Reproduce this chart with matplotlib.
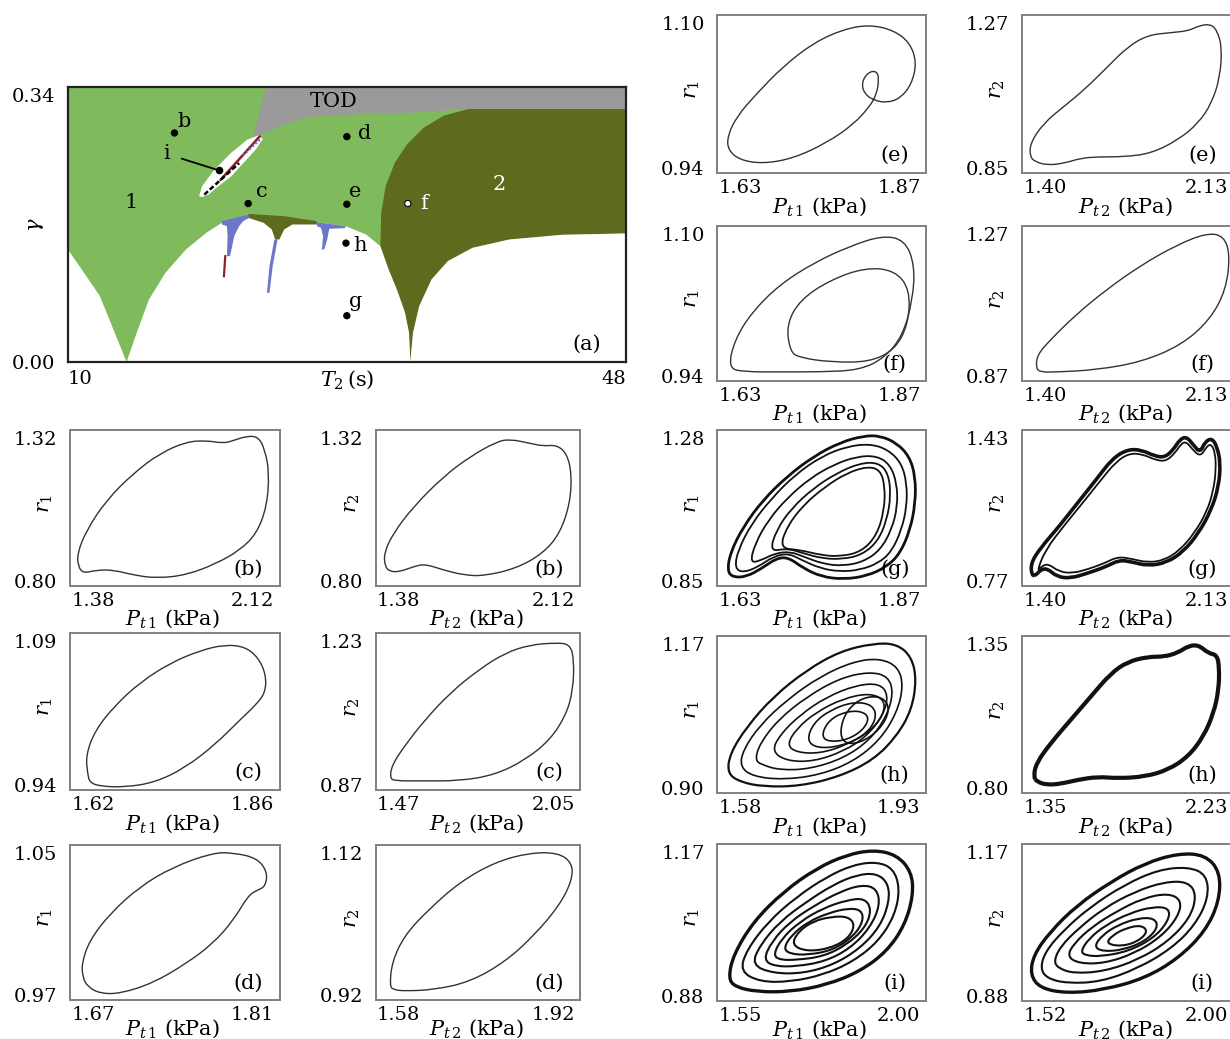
import numpy as np
import matplotlib.pyplot as plt
from matplotlib.path import Path
from matplotlib.patches import PathPatch

plt.rcParams['font.family'] = 'DejaVu Serif'
plt.rcParams['mathtext.fontset'] = 'dejavuserif'

W, H = 1230, 1039
GREEN = '#7fba5c'
OLIVE = '#5e6b1f'
GREY = '#9a9a9a'
BLUE = '#6d77c9'
RED = '#8a2222'

# ---------------- bifurcation map (T2, gamma) ----------------
arch_T2 = [10.0, 10.78, 12.17, 13.99, 14.68, 15.52, 16.64, 18.03, 19.42, 20.54,
           22.27, 24.72, 26.95, 28.90, 30.30, 31.27]
arch_gamma = [0.143, 0.122, 0.0839, 0.0, 0.0373, 0.0797, 0.1136, 0.1432, 0.1644, 0.178,
              0.1877, 0.1822, 0.178, 0.1729, 0.1623, 0.1474]
dark_left_T2 = [37.27, 35.59, 34.20, 33.08, 32.25, 31.63, 31.33, 31.27]
dark_left_gamma = [0.322, 0.3135, 0.2979, 0.2767, 0.2534, 0.2237, 0.1898, 0.1474]
dark_low_T2 = [31.83, 32.39, 32.95, 33.22, 33.31, 33.50, 33.92, 34.76, 35.87, 37.55, 40.06, 43.68, 48.0]
dark_low_gamma = [0.1178, 0.0924, 0.0627, 0.0373, 0.0, 0.0373, 0.0712, 0.1051, 0.1284, 0.1453,
                  0.1559, 0.1619, 0.1636]
tod_T2 = [23.47, 48.0, 48.0, 37.27, 35.87, 33.08, 28.90, 26.39, 24.72, 23.05, 22.63]
tod_gamma = [0.35, 0.35, 0.322, 0.322, 0.3203, 0.3169, 0.3148, 0.3118, 0.3021, 0.2881, 0.2864]
streak_T2 = [18.92, 19.14, 19.98, 21.10, 22.21, 23.05, 23.27, 22.77, 21.93, 21.10, 20.26, 19.56, 19.14]
streak_gamma = [0.211, 0.224, 0.245, 0.266, 0.283, 0.289, 0.284, 0.270, 0.253, 0.236, 0.224, 0.213, 0.210]
drip_olive_T2 = [22.27, 24.72, 26.95, 26.95, 25.28, 24.72, 24.39, 24.11, 23.88, 23.33, 22.27]
drip_olive_gamma = [0.1885, 0.1856, 0.1792, 0.1750, 0.1750, 0.1686, 0.1559, 0.1559, 0.1686, 0.1771, 0.1835]
drip_blue1_T2 = [20.48, 22.27, 22.35, 21.93, 21.65, 21.32, 21.04, 20.82, 20.87, 20.82, 20.48]
drip_blue1_gamma = [0.1792, 0.1877, 0.1835, 0.1792, 0.1729, 0.1602, 0.1347, 0.1347, 0.1602, 0.1729, 0.1750]
drip_blue2_T2 = [24.05, 24.27, 23.94, 23.72, 23.55, 23.72]
drip_blue2_gamma = [0.1559, 0.1559, 0.1220, 0.0881, 0.0881, 0.1220]
drip_blue3_T2 = [26.95, 28.90, 28.85, 27.79, 27.65, 27.45, 27.29, 27.37, 27.23, 26.95]
drip_blue3_gamma = [0.178, 0.1729, 0.1703, 0.1695, 0.1559, 0.1432, 0.1432, 0.1602, 0.1708, 0.1729]
red_trace_T2 = [20.71, 20.62]
red_trace_gamma = [0.1347, 0.1093]
streak_red_T2 = [20.40, 23.05]
streak_red_gamma = [0.232, 0.287]
streak_black_T2 = [19.28, 21.65]
streak_black_gamma = [0.213, 0.253]
streak_blue_T2 = [21.93, 23.19]
streak_blue_gamma = [0.263, 0.285]

point_names = ['b', 'c', 'd', 'e', 'f', 'g', 'h']
point_T2 = [17.25, 22.27, 28.99, 28.99, 33.14, 28.99, 28.93]
point_gamma = [0.2915, 0.2017, 0.2868, 0.2008, 0.2017, 0.0589, 0.1513]
point_offsets = [(7, 8), (10, 9), (13, 2), (6, 9), (12, 0), (6, 10), (10, -2)]
point_i = (20.26, 0.244)

# ---------------- phase portraits: (xs, ys) loops ----------------
b1_x = [1.311, 1.307, 1.350, 1.443, 1.566, 1.690, 1.814, 1.907, 1.984, 2.030, 2.092, 2.146,
        2.177, 2.197, 2.185, 2.139, 2.061, 1.953, 1.814, 1.675, 1.566, 1.474, 1.397, 1.335]
b1_y = [0.853, 0.902, 0.986, 1.095, 1.191, 1.264, 1.306, 1.310, 1.300, 1.310, 1.326, 1.324,
        1.276, 1.191, 1.070, 0.974, 0.913, 0.865, 0.823, 0.811, 0.823, 0.841, 0.841, 0.829]
b2_x = [1.316, 1.311, 1.355, 1.451, 1.594, 1.722, 1.849, 1.912, 2.008, 2.071, 2.135, 2.183,
        2.207, 2.199, 2.151, 2.071, 1.944, 1.785, 1.690, 1.594, 1.507, 1.451, 1.387, 1.340]
b2_y = [0.853, 0.902, 0.974, 1.070, 1.179, 1.252, 1.306, 1.315, 1.300, 1.290, 1.294, 1.264,
        1.191, 1.083, 0.974, 0.902, 0.847, 0.819, 0.823, 0.841, 0.863, 0.853, 0.835, 0.835]
c1_x = [1.612, 1.609, 1.623, 1.653, 1.691, 1.736, 1.781, 1.818, 1.848, 1.868, 1.880, 1.879,
        1.864, 1.841, 1.803, 1.758, 1.713, 1.668, 1.630, 1.615]
c1_y = [0.951, 0.971, 0.997, 1.023, 1.047, 1.067, 1.080, 1.086, 1.084, 1.073, 1.055, 1.036,
        1.023, 1.008, 0.982, 0.958, 0.943, 0.938, 0.939, 0.943]
c2_x = [1.438, 1.446, 1.495, 1.569, 1.663, 1.768, 1.869, 1.962, 2.056, 2.112, 2.127, 2.123,
        2.097, 2.037, 1.944, 1.831, 1.700, 1.551, 1.457]
c2_y = [0.888, 0.921, 0.970, 1.033, 1.100, 1.157, 1.200, 1.220, 1.225, 1.222, 1.182, 1.107,
        1.045, 0.983, 0.933, 0.896, 0.881, 0.881, 0.881]
d1_x = [1.661, 1.660, 1.667, 1.685, 1.711, 1.740, 1.775, 1.793, 1.814, 1.823, 1.821, 1.814,
        1.806, 1.793, 1.775, 1.752, 1.723, 1.694, 1.676, 1.665]
d1_y = [0.980, 0.988, 1.001, 1.016, 1.031, 1.042, 1.050, 1.050, 1.047, 1.039, 1.031, 1.029,
        1.026, 1.012, 0.999, 0.988, 0.977, 0.971, 0.971, 0.975]
d2_x = [1.561, 1.566, 1.594, 1.649, 1.715, 1.792, 1.868, 1.930, 1.961, 1.961, 1.934, 1.879,
        1.814, 1.737, 1.660, 1.594, 1.568]
d2_y = [0.934, 0.967, 1.005, 1.042, 1.079, 1.107, 1.120, 1.120, 1.106, 1.082, 1.047, 1.005,
        0.967, 0.939, 0.928, 0.926, 0.928]
e1_x = [1.611, 1.625, 1.655, 1.695, 1.741, 1.786, 1.826, 1.862, 1.887, 1.897, 1.889, 1.872,
        1.852, 1.831, 1.817, 1.814, 1.824, 1.837, 1.840, 1.836, 1.826, 1.801, 1.761, 1.711,
        1.665, 1.630, 1.612]
e1_y = [0.975, 0.997, 1.022, 1.052, 1.078, 1.093, 1.098, 1.092, 1.078, 1.056, 1.032, 1.017,
        1.012, 1.015, 1.023, 1.035, 1.046, 1.047, 1.037, 1.021, 1.008, 0.988, 0.968, 0.951,
        0.945, 0.949, 0.960]
e2_x = [1.331, 1.331, 1.392, 1.483, 1.575, 1.682, 1.773, 1.865, 1.971, 2.048, 2.093, 2.146,
        2.177, 2.200, 2.192, 2.154, 2.093, 2.002, 1.880, 1.758, 1.636, 1.560, 1.483, 1.407, 1.354]
e2_y = [0.883, 0.922, 0.980, 1.028, 1.076, 1.143, 1.201, 1.235, 1.242, 1.247, 1.261, 1.267,
        1.250, 1.201, 1.115, 1.038, 0.980, 0.932, 0.893, 0.883, 0.883, 0.879, 0.864, 0.859, 0.869]
f1_outer_x = [1.612, 1.622, 1.648, 1.690, 1.743, 1.796, 1.845, 1.879, 1.894, 1.891, 1.876,
              1.849, 1.811, 1.751, 1.690, 1.638]
f1_outer_y = [0.949, 0.981, 1.012, 1.043, 1.068, 1.086, 1.098, 1.093, 1.065, 1.026, 0.986,
              0.961, 0.947, 0.945, 0.945, 0.945]
f1_inner_x = [1.706, 1.700, 1.721, 1.766, 1.819, 1.864, 1.887, 1.884, 1.864, 1.826, 1.766, 1.721]
f1_inner_y = [0.967, 0.998, 1.026, 1.048, 1.062, 1.059, 1.037, 0.998, 0.970, 0.956, 0.956, 0.961]
f2_x = [1.358, 1.363, 1.422, 1.537, 1.674, 1.834, 1.994, 2.131, 2.209, 2.237, 2.218, 2.145,
        2.017, 1.834, 1.628, 1.445, 1.377]
f2_y = [0.893, 0.930, 0.972, 1.042, 1.112, 1.182, 1.238, 1.272, 1.264, 1.210, 1.112, 1.028,
        0.958, 0.910, 0.888, 0.882, 0.882]

g1_loops = [
    ([1.611, 1.615, 1.635, 1.665, 1.701, 1.741, 1.781, 1.817, 1.842, 1.867, 1.886, 1.895, 1.895,
      1.887, 1.872, 1.852, 1.822, 1.786, 1.753, 1.726, 1.703, 1.685, 1.663, 1.640, 1.620],
     [0.879, 0.934, 1.014, 1.094, 1.164, 1.224, 1.266, 1.286, 1.286, 1.264, 1.224, 1.164, 1.084,
      1.004, 0.934, 0.894, 0.866, 0.856, 0.864, 0.889, 0.922, 0.919, 0.889, 0.864, 0.862]),
    ([1.622, 1.627, 1.648, 1.678, 1.713, 1.753, 1.791, 1.827, 1.854, 1.874, 1.882, 1.882, 1.874,
      1.859, 1.839, 1.811, 1.781, 1.751, 1.723, 1.703, 1.680, 1.658, 1.635],
     [0.889, 0.944, 1.024, 1.099, 1.169, 1.224, 1.254, 1.262, 1.244, 1.204, 1.144, 1.074, 1.004,
      0.939, 0.904, 0.884, 0.879, 0.889, 0.914, 0.934, 0.924, 0.894, 0.876]),
    ([1.645, 1.653, 1.673, 1.701, 1.736, 1.771, 1.806, 1.837, 1.857, 1.867, 1.868, 1.859, 1.842,
      1.817, 1.786, 1.756, 1.726, 1.706, 1.683, 1.663],
     [0.904, 0.964, 1.034, 1.099, 1.159, 1.199, 1.224, 1.226, 1.199, 1.144, 1.074, 1.004, 0.944,
      0.909, 0.896, 0.902, 0.924, 0.939, 0.934, 0.914]),
    ([1.675, 1.685, 1.708, 1.741, 1.776, 1.811, 1.839, 1.854, 1.858, 1.852, 1.838, 1.814, 1.784,
      1.753, 1.726, 1.701],
     [0.939, 1.004, 1.069, 1.129, 1.174, 1.204, 1.206, 1.174, 1.109, 1.034, 0.969, 0.929, 0.916,
      0.919, 0.934, 0.949]),
    ([1.690, 1.701, 1.726, 1.759, 1.791, 1.822, 1.842, 1.849, 1.848, 1.837, 1.814, 1.781, 1.751, 1.721],
     [0.949, 1.014, 1.079, 1.134, 1.174, 1.194, 1.184, 1.134, 1.064, 0.989, 0.939, 0.924, 0.929, 0.944]),
]
g2_loops = [
    ([1.339, 1.334, 1.377, 1.461, 1.545, 1.629, 1.705, 1.774, 1.835, 1.896, 1.941, 1.979, 2.010,
      2.040, 2.071, 2.101, 2.124, 2.155, 2.178, 2.194, 2.185, 2.152, 2.094, 2.025, 1.949, 1.865,
      1.789, 1.735, 1.674, 1.591, 1.514, 1.453, 1.408, 1.377, 1.359],
     [0.795, 0.853, 0.922, 1.021, 1.129, 1.236, 1.336, 1.377, 1.374, 1.346, 1.340, 1.374, 1.423,
      1.435, 1.397, 1.362, 1.412, 1.428, 1.389, 1.313, 1.205, 1.098, 0.991, 0.906, 0.856, 0.841,
      0.860, 0.868, 0.837, 0.807, 0.784, 0.791, 0.830, 0.822, 0.799]),
    ([1.362, 1.400, 1.484, 1.568, 1.652, 1.720, 1.781, 1.842, 1.899, 1.946, 1.987, 2.017, 2.040,
      2.066, 2.103, 2.130, 2.152, 2.170, 2.173, 2.162, 2.132, 2.075, 2.010, 1.941, 1.865, 1.789,
      1.728, 1.667, 1.591, 1.522, 1.461, 1.415, 1.385],
     [0.815, 0.914, 1.025, 1.129, 1.236, 1.320, 1.359, 1.354, 1.328, 1.322, 1.359, 1.405, 1.411,
      1.377, 1.343, 1.389, 1.402, 1.359, 1.282, 1.190, 1.090, 0.991, 0.914, 0.868, 0.856, 0.874,
      0.883, 0.853, 0.825, 0.807, 0.815, 0.850, 0.841]),
]
h1_loops = [
    ([1.552, 1.558, 1.595, 1.653, 1.727, 1.800, 1.874, 1.925, 1.958, 1.969, 1.958, 1.925, 1.874,
      1.800, 1.712, 1.631, 1.580],
     [0.928, 0.965, 1.015, 1.071, 1.121, 1.156, 1.171, 1.170, 1.146, 1.103, 1.046, 0.997, 0.953,
      0.922, 0.904, 0.903, 0.912]),
    ([1.580, 1.587, 1.624, 1.683, 1.756, 1.830, 1.888, 1.929, 1.940, 1.925, 1.888, 1.830, 1.756, 1.675, 1.609],
     [0.940, 0.972, 1.018, 1.065, 1.109, 1.137, 1.143, 1.127, 1.090, 1.040, 0.990, 0.950, 0.925, 0.916, 0.922]),
    ([1.613, 1.624, 1.664, 1.727, 1.800, 1.866, 1.907, 1.918, 1.903, 1.866, 1.808, 1.734, 1.668, 1.628],
     [0.953, 0.984, 1.028, 1.071, 1.106, 1.118, 1.109, 1.078, 1.034, 0.990, 0.956, 0.936, 0.934, 0.944]),
    ([1.650, 1.668, 1.712, 1.771, 1.837, 1.888, 1.907, 1.896, 1.859, 1.808, 1.742, 1.683],
     [0.969, 1.000, 1.037, 1.071, 1.093, 1.096, 1.074, 1.037, 0.997, 0.969, 0.950, 0.951]),
    ([1.683, 1.705, 1.749, 1.808, 1.866, 1.899, 1.896, 1.866, 1.815, 1.756, 1.705],
     [0.981, 1.012, 1.043, 1.068, 1.078, 1.065, 1.037, 1.006, 0.981, 0.965, 0.967]),
    ([1.727, 1.742, 1.778, 1.830, 1.874, 1.881, 1.852, 1.800, 1.749],
     [0.990, 1.022, 1.046, 1.062, 1.056, 1.028, 0.997, 0.978, 0.975]),
    ([1.760, 1.771, 1.800, 1.841, 1.866, 1.852, 1.815, 1.775],
     [0.997, 1.022, 1.040, 1.046, 1.034, 1.009, 0.990, 0.987]),
    ([1.800, 1.815, 1.852, 1.896, 1.911, 1.888, 1.844, 1.808],
     [1.009, 1.046, 1.071, 1.071, 1.046, 1.009, 0.984, 0.984]),
]
h2_x = [1.286, 1.300, 1.378, 1.488, 1.598, 1.708, 1.800, 1.911, 2.002, 2.076, 2.131, 2.186,
        2.241, 2.287, 2.300, 2.297, 2.269, 2.214, 2.131, 2.021, 1.892, 1.745, 1.635, 1.525,
        1.433, 1.359, 1.304]
h2_y = [0.844, 0.895, 0.971, 1.060, 1.149, 1.238, 1.282, 1.301, 1.301, 1.317, 1.342, 1.346,
        1.314, 1.308, 1.263, 1.174, 1.086, 0.997, 0.921, 0.870, 0.844, 0.838, 0.844, 0.832,
        0.817, 0.813, 0.825]
i1_loops = [
    ([1.517, 1.531, 1.588, 1.673, 1.767, 1.852, 1.928, 1.994, 2.036, 2.041, 2.017, 1.966, 1.890,
      1.796, 1.692, 1.597, 1.536],
     [0.916, 0.963, 1.030, 1.090, 1.137, 1.164, 1.174, 1.164, 1.130, 1.083, 1.023, 0.970, 0.930,
      0.903, 0.889, 0.889, 0.899]),
    ([1.550, 1.569, 1.630, 1.711, 1.796, 1.871, 1.937, 1.984, 2.003, 1.989, 1.942, 1.871, 1.786, 1.692, 1.607],
     [0.930, 0.973, 1.030, 1.080, 1.120, 1.144, 1.150, 1.137, 1.097, 1.043, 0.990, 0.950, 0.923, 0.909, 0.909]),
    ([1.583, 1.607, 1.663, 1.739, 1.814, 1.881, 1.937, 1.970, 1.973, 1.947, 1.890, 1.814, 1.729, 1.644],
     [0.943, 0.983, 1.030, 1.070, 1.104, 1.124, 1.127, 1.107, 1.070, 1.020, 0.976, 0.943, 0.926, 0.926]),
    ([1.616, 1.640, 1.692, 1.763, 1.833, 1.895, 1.937, 1.947, 1.918, 1.862, 1.791, 1.711, 1.649],
     [0.953, 0.990, 1.030, 1.063, 1.090, 1.104, 1.097, 1.063, 1.017, 0.976, 0.950, 0.940, 0.940]),
    ([1.644, 1.668, 1.720, 1.786, 1.852, 1.904, 1.923, 1.904, 1.852, 1.786, 1.711, 1.663],
     [0.963, 0.996, 1.030, 1.057, 1.073, 1.077, 1.053, 1.017, 0.983, 0.960, 0.953, 0.953]),
    ([1.673, 1.696, 1.744, 1.800, 1.857, 1.895, 1.899, 1.871, 1.814, 1.744, 1.692],
     [0.976, 1.003, 1.030, 1.047, 1.057, 1.053, 1.030, 1.000, 0.973, 0.963, 0.965]),
    ([1.696, 1.715, 1.758, 1.810, 1.857, 1.876, 1.857, 1.805, 1.739],
     [0.983, 1.010, 1.031, 1.040, 1.040, 1.023, 0.996, 0.976, 0.970]),
]
i2_loops = [
    ([1.475, 1.485, 1.535, 1.615, 1.716, 1.816, 1.916, 1.996, 2.041, 2.038, 1.996, 1.916, 1.816,
      1.695, 1.585, 1.505],
     [0.923, 0.963, 1.010, 1.063, 1.110, 1.147, 1.167, 1.164, 1.130, 1.070, 1.010, 0.956, 0.916,
      0.893, 0.886, 0.896]),
    ([1.505, 1.520, 1.575, 1.655, 1.756, 1.856, 1.946, 2.001, 2.006, 1.966, 1.896, 1.796, 1.685, 1.585, 1.525],
     [0.936, 0.970, 1.013, 1.060, 1.104, 1.134, 1.140, 1.124, 1.077, 1.023, 0.976, 0.936, 0.909, 0.906, 0.916]),
    ([1.545, 1.565, 1.620, 1.695, 1.786, 1.876, 1.946, 1.971, 1.951, 1.886, 1.796, 1.695, 1.605, 1.560],
     [0.950, 0.980, 1.017, 1.057, 1.090, 1.110, 1.110, 1.083, 1.037, 0.990, 0.953, 0.930, 0.926, 0.936]),
    ([1.585, 1.605, 1.660, 1.731, 1.811, 1.886, 1.926, 1.916, 1.866, 1.786, 1.695, 1.620],
     [0.960, 0.986, 1.020, 1.050, 1.077, 1.087, 1.073, 1.040, 1.000, 0.966, 0.946, 0.946]),
    ([1.625, 1.650, 1.700, 1.771, 1.841, 1.891, 1.886, 1.841, 1.766, 1.685, 1.640],
     [0.970, 0.996, 1.023, 1.047, 1.060, 1.057, 1.030, 0.996, 0.970, 0.960, 0.962]),
    ([1.665, 1.690, 1.736, 1.796, 1.846, 1.856, 1.816, 1.751, 1.690],
     [0.980, 1.003, 1.023, 1.037, 1.037, 1.017, 0.990, 0.973, 0.970]),
    ([1.700, 1.721, 1.761, 1.806, 1.826, 1.796, 1.746],
     [0.986, 1.003, 1.017, 1.023, 1.010, 0.990, 0.980]),
]

fig = plt.figure(figsize=(W / 100, H / 100), dpi=100)


def add_axes_px(left, top, right, bottom):
    return fig.add_axes([left / W, 1 - bottom / H, (right - left) / W, (bottom - top) / H])


def loop_path(xs, ys):
    """Closed quadratic spline whose control polygon is the given loop."""
    pts = np.column_stack([xs, ys])
    mids = (pts + np.roll(pts, -1, axis=0)) / 2
    verts = [mids[-1]]
    codes = [Path.MOVETO]
    for p, m in zip(pts, mids):
        verts += [p, m]
        codes += [Path.CURVE3, Path.CURVE3]
    return Path(verts, codes)


def portrait(box, xticks, yticks, loops, idx, tag, color='#333333', xlab_y=-0.14):
    ax = add_axes_px(*box)
    sx = (xticks[1] - xticks[0]) / 0.76
    sy = (yticks[1] - yticks[0]) / 0.92
    ax.set_xlim(xticks[0] - 0.11 * sx, xticks[0] + 0.89 * sx)
    ax.set_ylim(yticks[0] - 0.03 * sy, yticks[0] + 0.97 * sy)
    ax.set_xticks(xticks, labels=[f'{v:.2f}' for v in xticks])
    ax.set_yticks(yticks, labels=[f'{v:.2f}' for v in yticks])
    ax.tick_params(axis='x', length=0, labelsize=14, pad=4)
    ax.tick_params(axis='y', length=0, labelsize=14, pad=9)
    for sp in ax.spines.values():
        sp.set_color('#808080')
        sp.set_linewidth(1.4)
    for xs, ys, lw in loops:
        ax.add_patch(PathPatch(loop_path(xs, ys), fill=False, ec=color, lw=lw))
    ax.set_xlabel(rf'$P_{{t\,{idx}}}$ (kPa)', fontsize=15)
    ax.xaxis.set_label_coords(0.49, xlab_y)
    ax.set_ylabel(rf'$r_{idx}$', fontsize=15)
    ax.yaxis.set_label_coords(-0.07, 0.53)
    ax.text(0.85, 0.11, tag, transform=ax.transAxes, ha='center', va='center', fontsize=15)
    return ax


# ---------------- panel (a) ----------------
ax = add_axes_px(68, 87, 626, 362)
ax.set_xlim(10, 48)
ax.set_ylim(0, 0.35)
ax.set_facecolor(GREEN)
ax.fill(dark_left_T2 + dark_low_T2 + [48.0], dark_left_gamma + dark_low_gamma + [0.322],
        color=OLIVE, lw=0)
ax.fill(tod_T2, tod_gamma, color=GREY, lw=0)
ax.fill([10.0] + arch_T2 + dark_low_T2 + [48.0], [0.0] + arch_gamma + dark_low_gamma + [0.0],
        color='white', lw=0)
ax.fill(drip_olive_T2, drip_olive_gamma, color=OLIVE, lw=0)
for dx, dy in [(drip_blue1_T2, drip_blue1_gamma), (drip_blue2_T2, drip_blue2_gamma),
               (drip_blue3_T2, drip_blue3_gamma)]:
    ax.fill(dx, dy, color=BLUE, lw=0)
ax.plot(red_trace_T2, red_trace_gamma, color=RED, lw=1.6)
ax.fill(streak_T2, streak_gamma, color='white', lw=0)
ax.plot(streak_red_T2, streak_red_gamma, color=RED, lw=1.8)
ax.plot(streak_black_T2, streak_black_gamma, color='black', lw=1.8, ls=(0, (2, 1)))
ax.plot(streak_blue_T2, streak_blue_gamma, color=BLUE, lw=1.5, ls=(0, (1, 1)))

face = ['white' if n == 'f' else 'black' for n in point_names]
ax.scatter(point_T2, point_gamma, s=20, c=face, edgecolors='black', linewidths=0.8, zorder=5)
ax.scatter([point_i[0]], [point_i[1]], s=20, c='black', zorder=5)
for n, x, y, off in zip(point_names, point_T2, point_gamma, point_offsets):
    ax.annotate(n, (x, y), xytext=off, textcoords='offset points', fontsize=15,
                ha='center', va='center', color='white' if n == 'f' else 'black')
ax.annotate('i', xy=point_i, xytext=(16.69, 0.265), fontsize=15, ha='center', va='center',
            arrowprops=dict(arrowstyle='-', color='black', lw=1.3, shrinkA=7, shrinkB=0))
ax.text(14.27, 0.2025, '1', fontsize=15, ha='center', va='center')
ax.text(39.36, 0.226, '2', fontsize=15, ha='center', va='center', color='white')
ax.text(28.12, 0.331, 'TOD', fontsize=15, ha='center', va='center')
ax.text(45.35, 0.0225, '(a)', fontsize=15, ha='center', va='center')

ax.set_xticks([10, 48], labels=['10', '48'])
ax.set_yticks([0.0, 0.34], labels=['0.00', '0.34'])
ax.tick_params(axis='x', length=0, labelsize=14, pad=6)
ax.tick_params(axis='y', length=0, labelsize=14, pad=9)
xl = ax.get_xticklabels()
xl[0].set_ha('left')
xl[1].set_ha('right')
for sp in ax.spines.values():
    sp.set_color('#222222')
    sp.set_linewidth(1.6)
ax.set_xlabel(r'$T_2\,$(s)', fontsize=15)
ax.xaxis.set_label_coords(0.5, -0.025)
ax.set_ylabel(r'$\gamma$', fontsize=15)
ax.yaxis.set_label_coords(-0.04, 0.5)

# ---------------- portraits ----------------
L1, L2 = (70, 280), (376, 580)
R1, R2 = (717, 926), (1022, 1234)
rows_left = {'b': (430, 586), 'c': (633, 790), 'd': (845, 1000)}
rows_right = {'e': (15, 173), 'f': (226, 381), 'g': (430, 586), 'h': (636, 793), 'i': (844, 1001)}
low = -0.112

thin = 1.0
t, b = rows_left['b']
portrait((L1[0], t, L1[1], b), [1.38, 2.12], [0.80, 1.32], [(b1_x, b1_y, thin)], 1, '(b)')
portrait((L2[0], t, L2[1], b), [1.38, 2.12], [0.80, 1.32], [(b2_x, b2_y, thin)], 2, '(b)')
t, b = rows_left['c']
portrait((L1[0], t, L1[1], b), [1.62, 1.86], [0.94, 1.09], [(c1_x, c1_y, thin)], 1, '(c)')
portrait((L2[0], t, L2[1], b), [1.47, 2.05], [0.87, 1.23], [(c2_x, c2_y, thin)], 2, '(c)')
t, b = rows_left['d']
portrait((L1[0], t, L1[1], b), [1.67, 1.81], [0.97, 1.05], [(d1_x, d1_y, thin)], 1, '(d)',
         xlab_y=low)
portrait((L2[0], t, L2[1], b), [1.58, 1.92], [0.92, 1.12], [(d2_x, d2_y, thin)], 2, '(d)',
         xlab_y=low)

t, b = rows_right['e']
portrait((R1[0], t, R1[1], b), [1.63, 1.87], [0.94, 1.10], [(e1_x, e1_y, thin)], 1, '(e)')
portrait((R2[0], t, R2[1], b), [1.40, 2.13], [0.85, 1.27], [(e2_x, e2_y, thin)], 2, '(e)')
t, b = rows_right['f']
portrait((R1[0], t, R1[1], b), [1.63, 1.87], [0.94, 1.10],
         [(f1_outer_x, f1_outer_y, thin), (f1_inner_x, f1_inner_y, thin)], 1, '(f)')
portrait((R2[0], t, R2[1], b), [1.40, 2.13], [0.87, 1.27], [(f2_x, f2_y, thin)], 2, '(f)')

dark = '#111111'
t, b = rows_right['g']
portrait((R1[0], t, R1[1], b), [1.63, 1.87], [0.85, 1.28],
         [(xs, ys, 2.0 if k == 0 else 1.3) for k, (xs, ys) in enumerate(g1_loops)], 1, '(g)', dark)
portrait((R2[0], t, R2[1], b), [1.40, 2.13], [0.77, 1.43],
         [(xs, ys, 2.6 if k == 0 else 1.3) for k, (xs, ys) in enumerate(g2_loops)], 2, '(g)', dark)
t, b = rows_right['h']
portrait((R1[0], t, R1[1], b), [1.58, 1.93], [0.90, 1.17],
         [(xs, ys, 1.6 if k == 0 else 1.2) for k, (xs, ys) in enumerate(h1_loops)], 1, '(h)', dark)
portrait((R2[0], t, R2[1], b), [1.35, 2.23], [0.80, 1.35], [(h2_x, h2_y, 3.0)], 2, '(h)', dark)
t, b = rows_right['i']
portrait((R1[0], t, R1[1], b), [1.55, 2.00], [0.88, 1.17],
         [(xs, ys, 2.4 if k == 0 else 1.5) for k, (xs, ys) in enumerate(i1_loops)], 1, '(i)', dark,
         xlab_y=low)
portrait((R2[0], t, R2[1], b), [1.52, 2.00], [0.88, 1.17],
         [(xs, ys, 2.4 if k == 0 else 1.5) for k, (xs, ys) in enumerate(i2_loops)], 2, '(i)', dark,
         xlab_y=low)

fig.savefig('out.png', dpi=100)
